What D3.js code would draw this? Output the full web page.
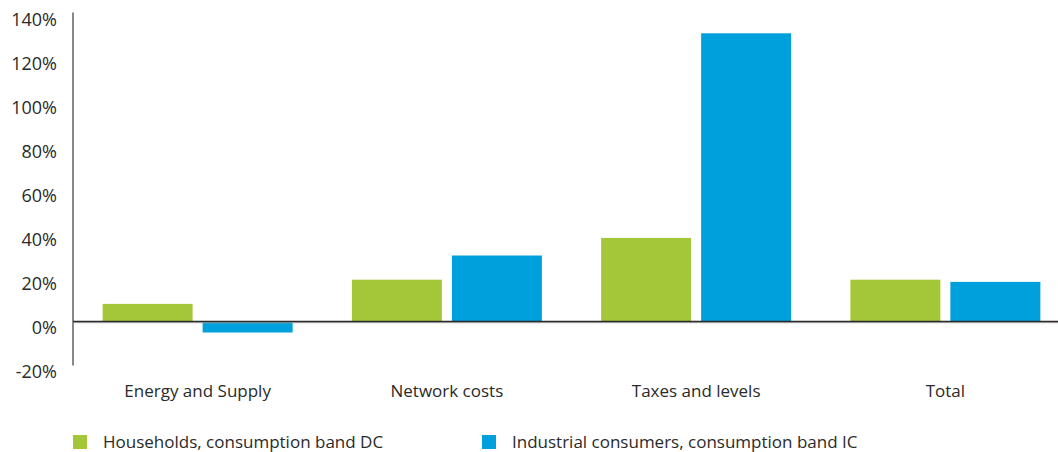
<!DOCTYPE html>
<html>
<head>
<meta charset="utf-8">
<script src="https://cdn.jsdelivr.net/npm/d3@7"></script>
<style>
  html, body { margin: 0; padding: 0; background: #fff; }
  svg { display: block; font-family: "Open Sans", "Noto Sans", sans-serif; }
</style>
</head>
<body>
<svg id="chart" width="1058" height="452"></svg>
<script>
// Price change by component, in percent
const categories = ["Energy and Supply", "Network costs", "Taxes and levels", "Total"];
const households = [8, 19, 38, 19];
const industrial = [-5, 30, 131, 18];
const seriesNames = ["Households, consumption band DC", "Industrial consumers, consumption band IC"];
const seriesColors = ["#a4c639", "#00a0dc"];
const yTicks = [-20, 0, 20, 40, 60, 80, 100, 120, 140];

const svg = d3.select("#chart");
const plotLeft = 73, plotRight = 1070, plotTop = 13.5, plotBottom = 365.5;
const textColor = "#2a2a2a";

const x = d3.scaleBand().domain(categories).range([plotLeft, plotRight]).paddingInner(0).paddingOuter(0);
const y = d3.scaleLinear().domain([-20, 140]).range([plotBottom, plotTop]);

const barW = 90, innerGap = 10;

// vertical axis line
svg.append("line")
  .attr("x1", plotLeft).attr("x2", plotLeft)
  .attr("y1", y(140) - 1).attr("y2", y(-20))
  .attr("stroke", "#888").attr("stroke-width", 2);

// y tick labels (sit slightly below their value)
const yAxis = d3.axisLeft(y).tickValues(yTicks).tickSize(0).tickPadding(0)
  .tickFormat(d => d + "%");
const gY = svg.append("g").attr("transform", `translate(${plotLeft - 16},6.5)`).call(yAxis);
gY.select(".domain").remove();
gY.selectAll("text")
  .attr("font-family", "Open Sans, Noto Sans, sans-serif")
  .attr("font-size", 18).attr("font-weight", 500).attr("fill", textColor);

// bars
const rows = categories.map((c, i) => ({ c, vals: [households[i], industrial[i]] }));
const groups = svg.append("g").selectAll("g").data(rows).join("g")
  .attr("transform", d => `translate(${x(d.c) + x.bandwidth() / 2},0)`);
groups.selectAll("rect").data(d => d.vals.map((v, k) => ({ v, k }))).join("rect")
  .attr("x", d => d.k === 0 ? -barW - innerGap / 2 : innerGap / 2)
  .attr("width", barW)
  .attr("y", d => y(Math.max(0, d.v)))
  .attr("height", d => Math.abs(y(d.v) - y(0)))
  .attr("fill", d => seriesColors[d.k]);

// zero line
svg.append("line")
  .attr("x1", plotLeft).attr("x2", 1058)
  .attr("y1", y(0) + 1.2).attr("y2", y(0) + 1.2)
  .attr("stroke", "#aaa").attr("stroke-width", 1);
svg.append("line")
  .attr("x1", plotLeft).attr("x2", 1058)
  .attr("y1", y(0)).attr("y2", y(0))
  .attr("stroke", "#2a2a2a").attr("stroke-width", 1.5);

// category labels
const xAxis = d3.axisBottom(x).tickSize(0).tickPadding(0);
const gX = svg.append("g").attr("transform", `translate(0,${plotBottom + 31})`).call(xAxis);
gX.select(".domain").remove();
gX.selectAll("text")
  .attr("dy", 0)
  .attr("font-family", "Open Sans, Noto Sans, sans-serif")
  .attr("font-size", 17).attr("font-weight", 500).attr("fill", textColor);

// legend
const legendX = [73, 482];
const lg = svg.append("g").selectAll("g").data(seriesNames).join("g")
  .attr("transform", (d, i) => `translate(${legendX[i]},435)`);
lg.append("rect").attr("width", 14).attr("height", 14).attr("fill", (d, i) => seriesColors[i]);
lg.append("text").attr("x", 30).attr("y", 13)
  .attr("font-size", 17).attr("font-weight", 500).attr("fill", textColor)
  .text(d => d);
</script>
</body>
</html>
